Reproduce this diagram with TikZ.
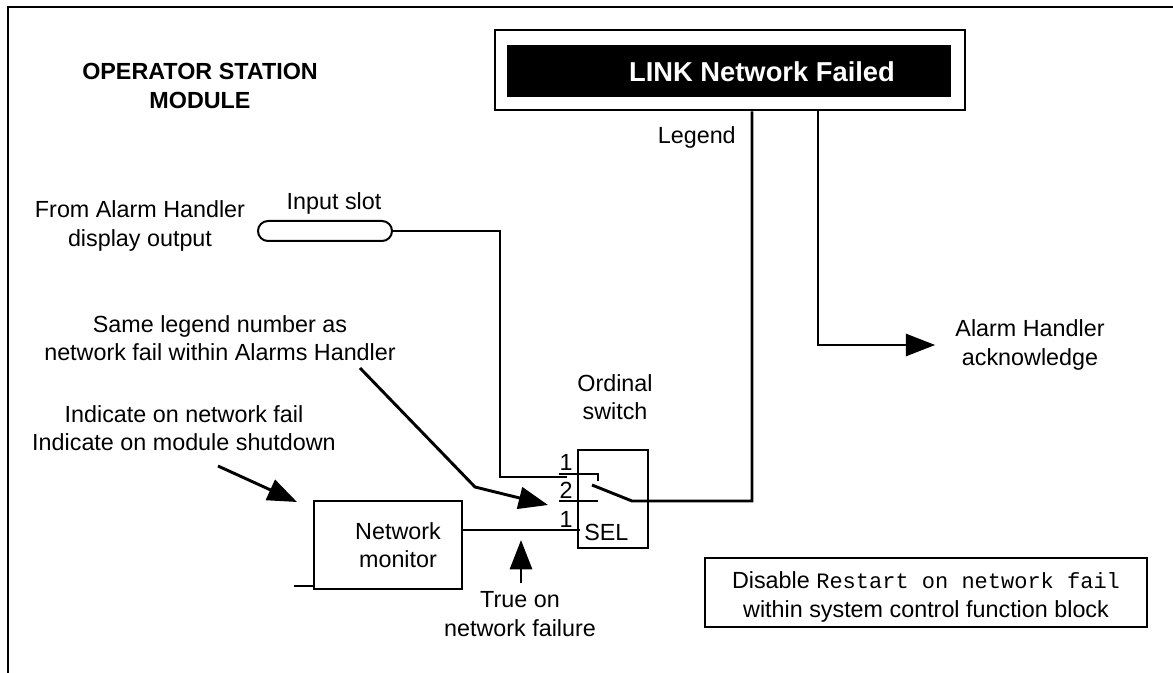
\documentclass[tikz,border=0pt]{standalone}
\usepackage{fontspec}
\setmainfont{Liberation Sans}
\setmonofont{Liberation Mono}
\usetikzlibrary{arrows.meta}
\begin{document}
\begin{tikzpicture}[x=0.75pt,y=-0.75pt,
  txt/.style={font=\fontsize{17.5}{21.5}\selectfont, align=center, inner sep=0pt},
  btxt/.style={font=\fontsize{17.5}{22}\selectfont\bfseries, align=center, inner sep=0pt},
  wire/.style={line width=2.2pt},
  box/.style={draw, line width=1.5pt, inner sep=0pt},
  arr/.style={wire, -{Triangle[length=22pt,width=16.5pt]}}]
\useasboundingbox (0,0) rectangle (1173,673);
\draw[line width=1.5pt] (8,673) -- (8,7) -- (1173,7);

% title
\node[btxt] (title) at (200,86) {OPERATOR STATION\\MODULE};

% legend display
\node[box, minimum width=352.5pt, minimum height=60pt] (legbox) at (730,70.5) {};
\node[fill=black, minimum width=333pt, minimum height=39pt, inner sep=0pt] (legbar) at (729,71) {};
\node[font=\fontsize{20.5}{22}\selectfont\bfseries, text=white, inner sep=0pt] (legtext) at (762,72) {LINK Network Failed};
\node[txt, anchor=east] (legendlbl) at (736,137) {Legend};
\coordinate (legx) at (752,0);
\coordinate (ackx) at (818,0);

% acknowledge
\node[txt] (ack) at (1030,345) {Alarm Handler\\acknowledge};
\draw[arr, shorten >=15pt] (legbox.south -| ackx) |- (ack.west);

% input slot
\node[txt] (fromlbl) at (140,226) {From Alarm Handler\\display output};
\node[draw, line width=1.5pt, rounded corners=7.5pt, minimum width=100.5pt, minimum height=15pt, inner sep=0pt] (slot) at (325,231) {};
\node[txt] (slotlbl) at (334,203) {Input slot};
\coordinate (inx) at (500,0);
\coordinate (in1) at (567,477);
\draw[wire] (slot.east) -- (slot.east -| inx) |- (in1);

% ordinal switch
\node[box, minimum width=52.5pt, minimum height=73.5pt] (sw) at (613,499) {};
\node[txt] (swlbl) at (615,397) {Ordinal\\switch};
\coordinate (t1a) at (559,474);
\coordinate (t1b) at (598,474);
\coordinate (t1c) at (598,481);
\draw[wire] (t1a) -- (t1b) -- (t1c);
\coordinate (t2a) at (559,501);
\coordinate (t2b) at (598,501);
\draw[wire] (t2a) -- (t2b);
\coordinate (lev) at (592,485);
\coordinate (pivot) at (632,501);
\draw[wire] (lev) -- (pivot) -- (pivot -| legx) -- (legbox.south -| legx);
\node[txt] (n1) at (566,462) {1};
\node[txt] (n2) at (566,490) {2};
\node[txt] (n3) at (566,519) {1};
\node[txt, anchor=west] (sel) at (584,532) {SEL};

% network monitor
\node[box, minimum width=111pt, minimum height=66pt] (nm) at (388,545) {};
\node[txt] (nmlbl) at (398,545) {Network\\monitor};
\coordinate (nmstub) at (294,586);
\draw[wire] (nmstub) -- (nmstub -| nm.west);
\coordinate (selin) at (580,530);
\draw[wire] (selin -| nm.east) -- (selin);

% true on network failure
\node[txt] (true) at (520,614) {True on\\network failure};
\coordinate (upend) at (521,540);
\draw[arr, shorten <=6pt] (true.north -| upend) -- (upend);

% same legend
\node[txt] (samelbl) at (220,338) {Same legend number as\\network fail within Alarms Handler};
\coordinate (samestart) at (360,368);
\coordinate (samebend) at (475,487);
\coordinate (sametip) at (548,505);
\draw[arr] (samestart) -- (samebend) -- (sametip);

% indicate
\node[txt] (indlbl) at (184,428) {Indicate on network fail\\Indicate on module shutdown};
\coordinate (indstart) at (218,466);
\coordinate (indtip) at (297,502);
\draw[arr] (indstart) -- (indtip);

% disable note
\node[box, minimum width=331.5pt, minimum height=51.75pt] (dis) at (926,592.5) {};
\node[txt] (distxt) at (926,597) {Disable {\ttfamily\fontsize{16.5}{21.5}\selectfont Restart on network fail}\\within system control function block};
\end{tikzpicture}
\end{document}
